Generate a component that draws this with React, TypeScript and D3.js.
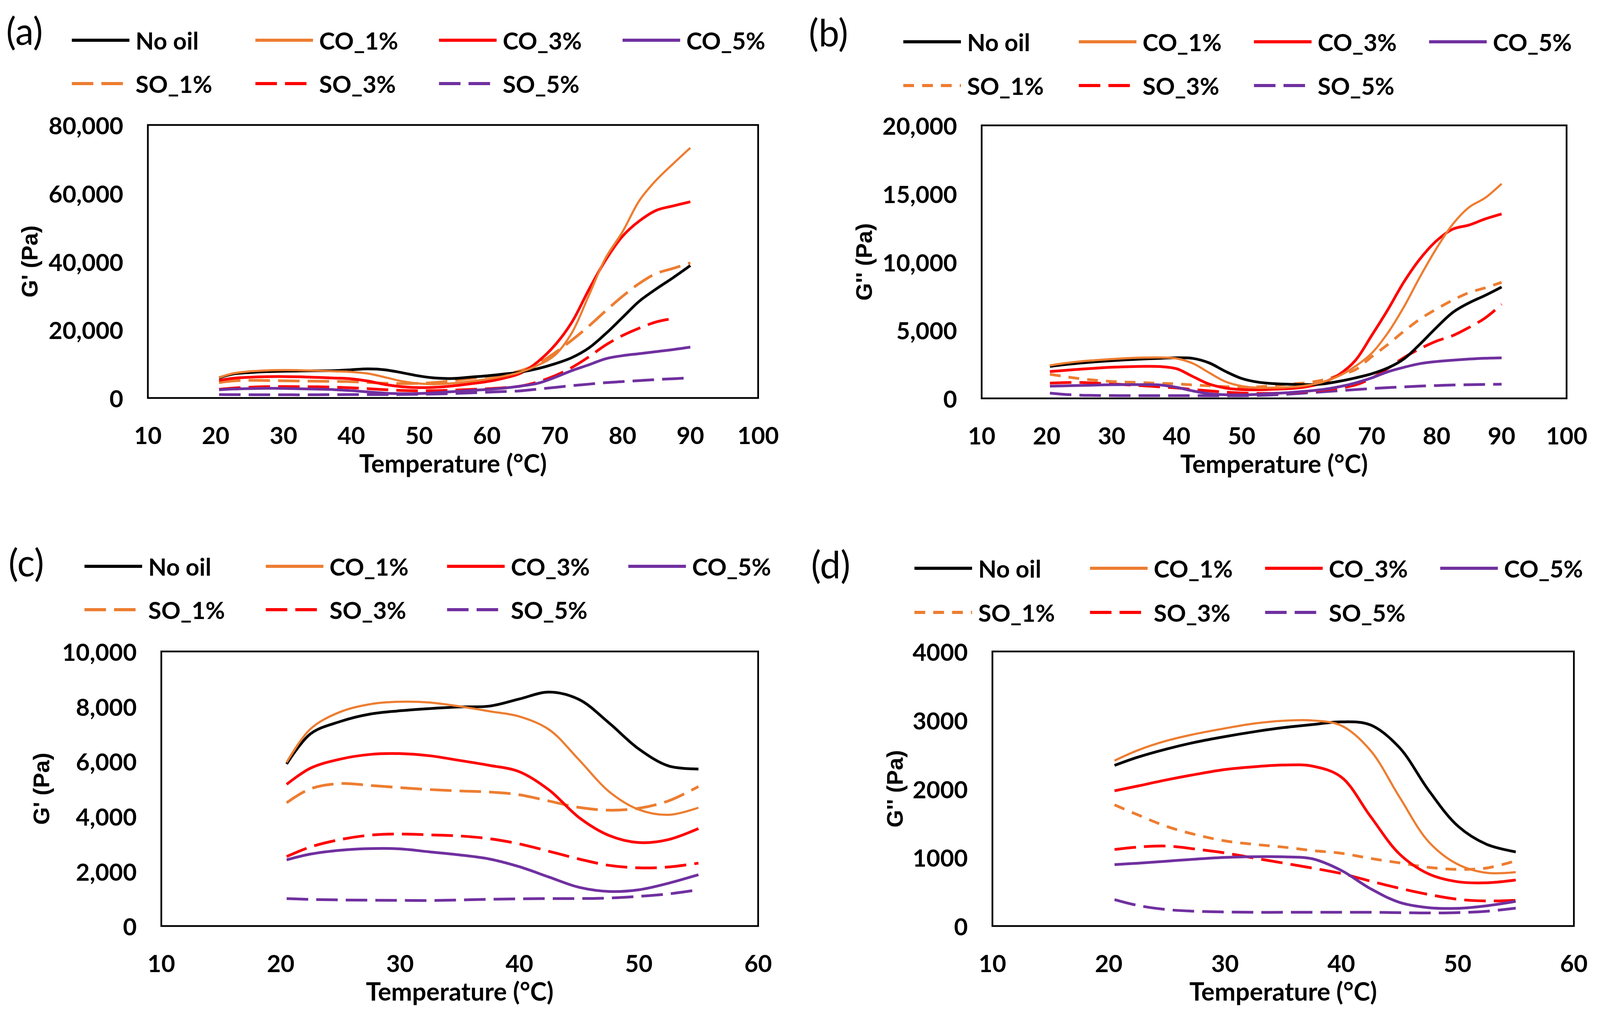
import React, { useEffect, useRef } from "react";
import * as d3 from "d3";

// temperature grid (°C) shared by every series
const temps = [20.5, 22.5, 25, 27.5, 30, 32.5, 35, 37.5, 40, 42.5, 45, 47.5, 50, 52.5, 55, 57.5, 60, 62.5, 65, 67.5, 70, 72.5, 75, 77.5, 80, 82.5, 85, 87.5, 90];

// storage modulus G' (Pa)
const gpNoOil = [5900, 7000, 7450, 7720, 7840, 7920, 7980, 8010, 8270, 8520, 8250, 7400, 6450, 5830, 5720, 6100, 6500, 7000, 7600, 8600, 10000, 11800, 14600, 18800, 23600, 28400, 32000, 35300, 38800];
const gpCO1 = [5960, 7180, 7800, 8080, 8170, 8140, 8000, 7820, 7630, 7150, 6050, 4900, 4240, 4050, 4310, 4850, 5500, 6400, 7600, 9600, 12500, 19000, 29900, 41000, 48700, 57900, 63900, 68700, 73300];
const gpCO3 = [5160, 5750, 6080, 6250, 6280, 6200, 6030, 5850, 5620, 4950, 3950, 3300, 3040, 3150, 3550, 4150, 4800, 5800, 7300, 10600, 15400, 22100, 31600, 40400, 47400, 51900, 55000, 56300, 57500];
const gpCO5 = [2410, 2620, 2760, 2820, 2810, 2700, 2590, 2440, 2160, 1780, 1410, 1260, 1320, 1560, 1870, 2200, 2500, 2900, 3500, 4300, 6000, 8000, 9700, 11500, 12400, 13000, 13600, 14200, 14900];
const gpSO1 = [4490, 5000, 5190, 5120, 5040, 4970, 4920, 4880, 4780, 4550, 4320, 4220, 4290, 4560, 5080, 5700, 6300, 7000, 8000, 10000, 13200, 16900, 21000, 25500, 29800, 33600, 36500, 38000, 39600];
const gpSO3 = [2530, 2880, 3150, 3310, 3350, 3320, 3280, 3180, 2990, 2720, 2440, 2210, 2120, 2150, 2290, 2500, 2700, 3000, 3500, 4700, 6500, 8900, 12000, 15500, 18300, 20500, 22300, 23300, null];
const gpSO5 = [1000, 970, 950, 940, 935, 930, 950, 975, 990, 1000, 1000, 1020, 1080, 1170, 1320, 1500, 1700, 1900, 2100, 2600, 3100, 3600, 4050, 4500, 4800, 5100, 5400, 5650, 5900];

// loss modulus G'' (Pa)
const gppNoOil = [2340, 2460, 2580, 2680, 2760, 2830, 2890, 2935, 2975, 2930, 2600, 1980, 1460, 1190, 1080, 1030, 1010, 1060, 1250, 1500, 1800, 2230, 2900, 4000, 5200, 6300, 7000, 7550, 8160];
const gppCO1 = [2410, 2560, 2700, 2800, 2880, 2950, 2990, 2995, 2920, 2560, 1880, 1230, 900, 775, 785, 820, 950, 1200, 1650, 2350, 3300, 4800, 6730, 8950, 11000, 12770, 14000, 14700, 15720];
const gppCO3 = [1970, 2040, 2130, 2210, 2280, 2320, 2345, 2330, 2170, 1600, 1050, 760, 645, 630, 670, 720, 850, 1150, 1750, 2780, 4600, 6500, 8550, 10250, 11550, 12400, 12700, 13150, 13510];
const gppCO5 = [895, 915, 945, 975, 1000, 1010, 1008, 980, 810, 545, 345, 268, 258, 295, 360, 430, 530, 650, 850, 1130, 1500, 1950, 2280, 2550, 2700, 2800, 2880, 2940, 2970];
const gppSO1 = [1765, 1620, 1450, 1330, 1240, 1190, 1150, 1100, 1060, 985, 920, 855, 825, 845, 950, 1050, 1150, 1350, 1700, 2100, 3050, 3950, 4930, 5830, 6550, 7200, 7750, 8100, 8500];
const gppSO3 = [1115, 1150, 1165, 1120, 1065, 990, 918, 845, 765, 655, 550, 460, 390, 365, 375, 420, 500, 600, 750, 980, 1470, 2200, 3000, 3650, 4200, 4600, 5200, 5900, 6890];
const gppSO5 = [385, 300, 240, 215, 205, 200, 200, 200, 200, 200, 195, 190, 195, 215, 260, 320, 400, 480, 560, 640, 720, 790, 840, 900, 940, 980, 1000, 1020, 1040];

const seriesNames = ["No oil", "CO_1%", "CO_3%", "CO_5%", "SO_1%", "SO_3%", "SO_5%"];
const seriesColors = ["#000000", "#ED7D31", "#FF0000", "#7030A0", "#ED7D31", "#FF0000", "#7030A0"];

const gpSeries = [gpNoOil, gpCO1, gpCO3, gpCO5, gpSO1, gpSO3, gpSO5];
const gppSeries = [gppNoOil, gppCO1, gppCO3, gppCO5, gppSO1, gppSO3, gppSO5];

const W = 4166;
const H = 2586;
const FONT = "Lato, 'Open Sans', sans-serif";
const TITLE_FONT = "'Liberation Sans', Arial, sans-serif";
const LW = 7;

const LONG_DASH = `${8 * LW},${3 * LW}`;
const SHORT_DASH = `${4 * LW},${3 * LW}`;

const panels = [
  {
    label: "(a)", labelX: 16, labelY: 78,
    box: { l: 385, r: 1974, t: 320, b: 1019 },
    xMax: 100, tMax: 90, yMax: 80000, yStep: 20000, fmt: d3.format(","),
    values: gpSeries, title: "G' (Pa)", titleOff: 308,
    legX: [187, 665, 1143, 1621], legY: [103, 214], so1Dash: LONG_DASH,
  },
  {
    label: "(b)", labelX: 2106, labelY: 82,
    box: { l: 2556, r: 4079, t: 321, b: 1020 },
    xMax: 100, tMax: 90, yMax: 20000, yStep: 5000, fmt: d3.format(","),
    values: gppSeries, title: "G'' (Pa)", titleOff: 306,
    legX: [2352, 2809, 3265, 3721], legY: [107, 219], so1Dash: SHORT_DASH,
  },
  {
    label: "(c)", labelX: 22, labelY: 1439,
    box: { l: 420, r: 1974, t: 1668, b: 2371 },
    xMax: 60, tMax: 55, yMax: 10000, yStep: 2000, fmt: d3.format(","),
    values: gpSeries, title: "G' (Pa)", titleOff: 312,
    legX: [220, 692, 1164, 1636], legY: [1450, 1561], so1Dash: LONG_DASH,
  },
  {
    label: "(d)", labelX: 2112, labelY: 1444,
    box: { l: 2584, r: 4098, t: 1668, b: 2371 },
    xMax: 60, tMax: 55, yMax: 4000, yStep: 1000, fmt: d3.format("d"),
    values: gppSeries, title: "G'' (Pa)", titleOff: 254,
    legX: [2381, 2838, 3294, 3750], legY: [1455, 1568], so1Dash: SHORT_DASH,
  },
];

function App() {
  const ref = useRef(null);

  useEffect(() => {
    const svg = d3.select(ref.current);
    svg.selectAll("*").remove();

    panels.forEach((p) => {
      const g = svg.append("g");
      const x = d3.scaleLinear().domain([10, p.xMax]).range([p.box.l, p.box.r]);
      const y = d3.scaleLinear().domain([0, p.yMax]).range([p.box.b, p.box.t]);
      const dashFor = (i) => (i < 4 ? null : i === 4 ? p.so1Dash : LONG_DASH);

      // plot area border
      g.append("rect")
        .attr("x", p.box.l)
        .attr("y", p.box.t)
        .attr("width", p.box.r - p.box.l)
        .attr("height", p.box.b - p.box.t)
        .attr("fill", "none")
        .attr("stroke", "#000")
        .attr("stroke-width", 4.5);

      // curves
      const line = d3
        .line()
        .defined((d) => d[1] != null)
        .x((d) => x(d[0]))
        .y((d) => y(d[1]))
        .curve(d3.curveCatmullRom.alpha(0.5));

      const order = [6, 5, 4, 3, 2, 0, 1];
      order.forEach((i) => {
        const pts = temps
          .map((t, k) => [t, p.values[i][k]])
          .filter((d) => d[0] <= p.tMax);
        g.append("path")
          .attr("d", line(pts))
          .attr("fill", "none")
          .attr("stroke", seriesColors[i])
          .attr("stroke-width", i === 1 ? 5.5 : LW)
          .attr("stroke-dasharray", dashFor(i))
          .attr("stroke-linejoin", "round");
      });

      // x tick labels
      const xt = d3.range(10, p.xMax + 1, 10);
      g.selectAll(".xt")
        .data(xt)
        .enter()
        .append("text")
        .attr("x", (d) => x(d))
        .attr("y", p.box.b + 94)
        .attr("text-anchor", "middle")
        .attr("dominant-baseline", "central")
        .attr("font-family", FONT)
        .attr("font-weight", 700)
        .attr("font-size", 62)
        .text((d) => d);

      // y tick labels
      const yt = d3.range(0, p.yMax + 1, p.yStep);
      g.selectAll(".yt")
        .data(yt)
        .enter()
        .append("text")
        .attr("x", p.box.l - 64)
        .attr("y", (d) => y(d))
        .attr("text-anchor", "end")
        .attr("dominant-baseline", "central")
        .attr("font-family", FONT)
        .attr("font-weight", 700)
        .attr("font-size", 62)
        .text((d) => p.fmt(d));

      // axis titles
      g.append("text")
        .attr("x", (p.box.l + p.box.r) / 2)
        .attr("y", p.box.b + 166)
        .attr("text-anchor", "middle")
        .attr("dominant-baseline", "central")
        .attr("font-family", FONT)
        .attr("font-weight", 700)
        .attr("font-size", 65)
        .text("Temperature (°C)");

      const ty = (p.box.t + p.box.b) / 2;
      const tx = p.box.l - p.titleOff;
      g.append("text")
        .attr("transform", `translate(${tx},${ty}) rotate(-90)`)
        .attr("text-anchor", "middle")
        .attr("dominant-baseline", "central")
        .attr("font-family", TITLE_FONT)
        .attr("font-weight", 700)
        .attr("font-size", 58)
        .text(p.title);

      // panel letter
      g.append("text")
        .attr("x", p.labelX)
        .attr("y", p.labelY)
        .attr("dominant-baseline", "central")
        .attr("font-family", FONT)
        .attr("font-size", 96)
        .text(p.label);

      // legend
      seriesNames.forEach((name, i) => {
        const row = i < 4 ? 0 : 1;
        const col = i < 4 ? i : i - 4;
        const lx = p.legX[col];
        const ly = p.legY[row];
        g.append("line")
          .attr("x1", lx)
          .attr("x2", lx + 150)
          .attr("y1", ly)
          .attr("y2", ly)
          .attr("stroke", seriesColors[i])
          .attr("stroke-width", 8)
          .attr("stroke-dasharray", dashFor(i));
        g.append("text")
          .attr("x", lx + 166)
          .attr("y", ly)
          .attr("dominant-baseline", "central")
          .attr("font-family", FONT)
          .attr("font-weight", 700)
          .attr("font-size", 62)
          .text(name);
      });
    });
  }, []);

  return (
    <svg
      ref={ref}
      viewBox={`0 0 ${W} ${H}`}
      preserveAspectRatio="none"
      style={{
        position: "fixed",
        left: 0,
        top: 0,
        width: "100vw",
        height: "100vh",
        background: "#fff",
      }}
    />
  );
}

export default App;
